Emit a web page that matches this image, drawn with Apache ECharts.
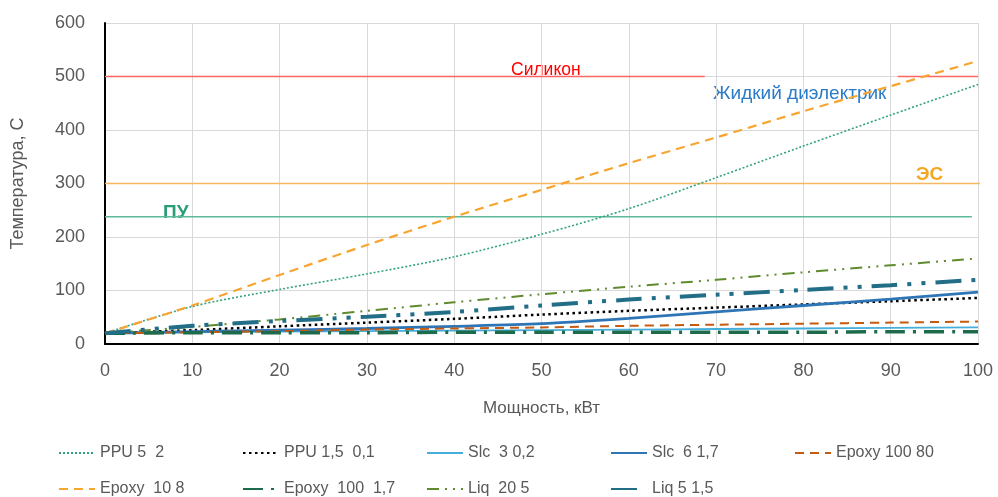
<!DOCTYPE html>
<html>
<head>
<meta charset="utf-8">
<script src="https://cdn.jsdelivr.net/npm/echarts@6/dist/echarts.min.js"></script>
<style>
  html, body { margin: 0; padding: 0; background: #fff; }
  #chart { width: 998px; height: 497px; }
</style>
</head>
<body>
<div id="chart"></div>
<script>
const power = [0, 10, 20, 30, 40, 50, 60, 70, 80, 90, 100];

const ppu52 = [20, 70, 102, 131, 163, 205, 253, 311, 370, 428, 485];
const ppu15 = [20, 26, 33, 40, 47, 55, 62, 68, 74, 80, 86];
const slc302 = [20, 22, 23, 24, 25, 26, 27, 28, 29, 30, 31];
const slc617 = [20, 23, 26, 29, 33, 38, 48, 60, 72, 84, 97];
const epoxy10080 = [20, 22, 24, 27, 29, 31, 34, 36, 38, 40, 42];
const epoxy108 = [20, 72, 129, 185, 238, 288, 338, 386, 435, 482, 529];
const epoxy10017 = [20, 21, 21, 21, 22, 22, 22, 22, 22, 23, 23];
const liq205 = [20, 32, 46, 62, 78, 93, 107, 120, 134, 147, 160];
const liq515 = [20, 34, 43, 51, 60, 72, 83, 92, 101, 110, 120];

// horizontal limit lines (value, x-extent in kW)
const siliconLine = [[0, 500], [68.7, 500], [68.7, '-'], [90.8, '-'], [90.8, 500], [100, 500]];
const esLine = [[0, 300], [101.4, 300]];
const puLine = [[0, 238], [99.3, 238]];

const font = 'Liberation Sans';
const pts = arr => power.map((x, i) => [x, arr[i]]);

const mainSeries = [
  { name: 'PPU 5  2', data: ppu52, color: '#33A37E', width: 1.6, type: [2, 2] },
  { name: 'PPU 1,5  0,1', data: ppu15, color: '#000000', width: 2.5, type: [2.5, 3.5] },
  { name: 'Slc  3 0,2', data: slc302, color: '#45AEDA', width: 1.8, type: 'solid' },
  { name: 'Slc  6 1,7', data: slc617, color: '#2E75B6', width: 2.8, type: 'solid' },
  { name: 'Epoxy 100 80', data: epoxy10080, color: '#C55A11', width: 2, type: [9, 6] },
  { name: 'Epoxy  10 8', data: epoxy108, color: '#F7A531', width: 2.2, type: [9, 6] },
  { name: 'Epoxy  100  1,7', data: epoxy10017, color: '#1D6B4B', width: 3.5, type: [20, 8, 3, 8] },
  { name: 'Liq  20 5', data: liq205, color: '#5F8B2E', width: 2, type: [12, 6, 2, 6, 2, 6] },
  { name: 'Liq 5 1,5', data: liq515, color: '#216E86', width: 4, type: [26, 10, 4, 10, 4, 10] }
];

const chart = echarts.init(document.getElementById('chart'));

const limitSeries = [
  { data: siliconLine, color: '#FF6464' },
  { data: esLine, color: '#F5B860' },
  { data: puLine, color: '#5DBA99' }
].map(s => ({
  type: 'line',
  data: s.data,
  symbol: 'none',
  clip: false,
  silent: true,
  z: 1,
  connectNulls: false,
  lineStyle: { color: s.color, width: 1.5 }
}));

chart.setOption({
  animation: false,
  backgroundColor: '#fff',
  textStyle: { fontFamily: font },
  grid: { left: 105, right: 20, top: 23, bottom: 153 },
  legend: {
    left: 58,
    top: 443,
    padding: 0,
    width: 940,
    itemWidth: 36,
    itemHeight: 14,
    itemGap: 16,
    itemStyle: { opacity: 0 },
    data: mainSeries.map(s => s.name),
    textStyle: { fontFamily: font, fontSize: 16, color: '#595959', width: 126, lineHeight: 20 }
  },
  xAxis: {
    type: 'value',
    min: 0,
    max: 100,
    interval: 10,
    name: 'Мощность, кВт',
    nameLocation: 'middle',
    nameGap: 56,
    nameTextStyle: { fontFamily: font, fontSize: 17, color: '#595959' },
    axisLine: { lineStyle: { color: '#000', width: 2 } },
    axisTick: { show: false },
    axisLabel: { fontFamily: font, fontSize: 18, color: '#595959', margin: 18 },
    splitLine: { show: true, lineStyle: { color: '#D9D9D9', width: 1 } }
  },
  yAxis: {
    type: 'value',
    min: 0,
    max: 600,
    interval: 100,
    name: 'Температура, С',
    nameLocation: 'middle',
    nameGap: 78,
    nameTextStyle: { fontFamily: font, fontSize: 18, color: '#595959' },
    axisLine: { show: true, lineStyle: { color: '#000', width: 2 } },
    axisTick: { show: false },
    axisLabel: { fontFamily: font, fontSize: 18, color: '#595959', margin: 20 },
    splitLine: { show: true, lineStyle: { color: '#D9D9D9', width: 1 } }
  },
  graphic: [
    { type: 'text', left: 511, top: 61, style: { text: 'Силикон', fill: '#FF0000', font: '17.5px "Liberation Sans"' } },
    { type: 'text', left: 713, top: 84, style: { text: 'Жидкий диэлектрик', fill: '#2B7BC8', font: '19px "Liberation Sans"' } },
    { type: 'text', left: 916, top: 165, style: { text: 'ЭС', fill: '#F5A623', font: 'bold 19px "Liberation Sans"' } },
    { type: 'text', left: 163, top: 203, style: { text: 'ПУ', fill: '#2A9D76', font: 'bold 19px "Liberation Sans"' } }
  ],
  series: limitSeries.concat(mainSeries.map(s => ({
    name: s.name,
    type: 'line',
    data: pts(s.data),
    symbol: 'none',
    smooth: 0.3,
    z: 3,
    itemStyle: { color: s.color },
    lineStyle: { color: s.color, width: s.width, type: s.type }
  })))
});
</script>
</body>
</html>
